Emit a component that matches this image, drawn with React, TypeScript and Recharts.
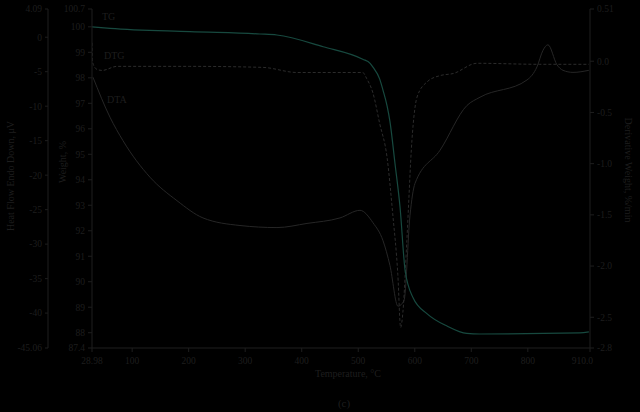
import React from "react";
import { ComposedChart, Line, XAxis, YAxis } from "recharts";

// Temperature axis
const xMin = 28.98;
const xMax = 910;
const xTicks = [28.98, 100, 200, 300, 400, 500, 600, 700, 800, 910];

// Weight axis (inner left)
const wTicks = [87.4, 88, 89, 90, 91, 92, 93, 94, 95, 96, 97, 98, 99, 100, 100.7];
// Heat flow axis (outer left)
const hTicks = [-45.06, -40, -35, -30, -25, -20, -15, -10, -5, 0, 4.09];
// Derivative weight axis (right)
const dTicks = [-2.8, -2.5, -2.0, -1.5, -1.0, -0.5, 0, 0.51];

// TG (weight %)
const tgTemp = [28.98, 61, 202, 326, 356, 438, 508, 521, 526, 538, 544, 551, 556, 565, 574, 583, 597, 622, 657, 692, 715, 892, 908];
const tgVal = [100.0, 99.94, 99.81, 99.72, 99.68, 99.22, 98.73, 98.57, 98.42, 97.95, 97.5, 96.9, 96.3, 94.64, 92.91, 90.43, 89.37, 88.74, 88.26, 87.97, 87.95, 87.99, 88.03];

// DTG (%/min)
const dtgTemp = [28.98, 29.9, 37.8, 46.7, 73.2, 202, 331, 392, 508, 515, 526, 538, 551, 561, 570, 575, 579, 586, 595, 604, 622, 645, 668, 710, 821, 908];
const dtgVal = [0.18, -0.01, -0.08, -0.09, -0.05, -0.05, -0.06, -0.11, -0.11, -0.17, -0.31, -0.61, -0.94, -1.49, -2.08, -2.6, -2.45, -1.75, -0.77, -0.35, -0.2, -0.14, -0.12, -0.02, -0.03, -0.03];

// DTA (µV)
const dtaTemp = [30.7, 60.8, 83.8, 131.6, 179.3, 225.3, 290.8, 356.2, 409.3, 467.7, 503.1, 526.1, 543.8, 556.1, 570.3, 580.9, 591.5, 600.4, 644.6, 692.3, 715.4, 798.5, 816.2, 826.8, 835.6, 851.6, 862.2, 879.9, 908];
const dtaVal = [-5.8, -11.6, -15.0, -20.3, -23.7, -26.2, -27.3, -27.6, -27.0, -26.2, -25.1, -26.9, -29.5, -33.1, -39.0, -38.2, -25.9, -21.2, -16.4, -9.9, -8.7, -6.2, -4.3, -1.9, -1.1, -4.0, -4.8, -5.1, -4.8];

const tgData = tgTemp.map((t, i) => ({ t, v: tgVal[i] }));
const dtgData = dtgTemp.map((t, i) => ({ t, v: dtgVal[i] }));
const dtaData = dtaTemp.map((t, i) => ({ t, v: dtaVal[i] }));

const FONT = '"Liberation Serif", "Times New Roman", serif';
const TXT = "#1e1e1e";
const AX = "#1e1e1e";

const XTick = (props: any) => {
  const { x, y, payload } = props;
  const v = payload.value;
  const last = v === xMax;
  const label = last ? "910.0" : v === xMin ? "28.98" : String(v);
  return (
    <text x={last ? x + 3 : x} y={y} dy="0.71em" textAnchor={last ? "end" : "middle"} fill={TXT} fontSize={9.5} fontFamily={FONT}>
      {label}
    </text>
  );
};

const tickStyle = { fill: TXT, fontSize: 9.5, fontFamily: FONT };

const rot = (left: number, top: number, deg: number, text: string) => (
  <div
    style={{
      position: "absolute",
      left,
      top,
      transform: `translate(-50%, -50%) rotate(${deg}deg)`,
      whiteSpace: "nowrap",
      color: TXT,
      fontSize: 10,
      fontFamily: FONT,
      lineHeight: 1,
    }}
  >
    {text}
  </div>
);

const lbl = (left: number, top: number, text: string, size = 10) => (
  <div
    style={{
      position: "absolute",
      left,
      top,
      transform: "translate(0, -50%)",
      whiteSpace: "nowrap",
      color: TXT,
      fontSize: size,
      fontFamily: FONT,
      lineHeight: 1,
    }}
  >
    {text}
  </div>
);

export default function App() {
  return (
    <div style={{ position: "absolute", left: 0, top: 0, width: 640, height: 412, background: "#000", overflow: "hidden" }}>
      <ComposedChart width={640} height={412} margin={{ top: 9, right: 10, bottom: 34, left: 4 }}>
        <XAxis
          dataKey="t"
          type="number"
          domain={[xMin, xMax]}
          ticks={xTicks}
          allowDataOverflow
          height={30}
          stroke={AX}
          tickSize={4}
          tickMargin={5}
          tick={<XTick />}
        />
        <YAxis
          yAxisId="a"
          orientation="left"
          type="number"
          domain={[87.4, 100.7]}
          ticks={wTicks}
          allowDataOverflow
          width={44}
          stroke={AX}
          tickSize={4}
          tickMargin={3}
          tick={tickStyle}
          interval={0}
        />
        <YAxis
          yAxisId="b"
          orientation="left"
          type="number"
          domain={[-45.06, 4.09]}
          ticks={hTicks}
          allowDataOverflow
          width={44}
          stroke={AX}
          tickSize={3}
          tickMargin={3}
          tick={tickStyle}
          interval={0}
        />
        <YAxis
          yAxisId="d"
          orientation="right"
          type="number"
          domain={[-2.8, 0.51]}
          ticks={dTicks}
          allowDataOverflow
          width={40}
          stroke={AX}
          tickSize={4}
          tickMargin={3}
          tick={tickStyle}
          interval={0}
          tickFormatter={(v: number) => (v === 0.51 ? "0.51" : v.toFixed(1))}
        />
        <Line yAxisId="b" data={dtaData} dataKey="v" type="monotone" stroke="#262626" strokeWidth={1} dot={false} isAnimationActive={false} />
        <Line yAxisId="d" data={dtgData} dataKey="v" type="monotone" stroke="#2c2c2c" strokeWidth={1} strokeDasharray="3 2" dot={false} isAnimationActive={false} />
        <Line yAxisId="a" data={tgData} dataKey="v" type="monotone" stroke="#17493f" strokeWidth={1.2} dot={false} isAnimationActive={false} />
      </ComposedChart>
      {rot(11, 176, -90, "Heat Flow Endo Down, μV")}
      {rot(63, 162, -90, "Weight, %")}
      {rot(628, 170, 90, "Derivative Weight, %/min")}
      <div style={{ position: "absolute", left: 348, top: 374, transform: "translate(-50%, -50%)", whiteSpace: "nowrap", color: TXT, fontSize: 10, fontFamily: FONT, lineHeight: 1 }}>
        Temperature, °C
      </div>
      <div style={{ position: "absolute", left: 344, top: 403, transform: "translate(-50%, -50%)", whiteSpace: "nowrap", color: TXT, fontSize: 11, fontFamily: FONT, lineHeight: 1 }}>
        (c)
      </div>
      {lbl(102, 17, "TG")}
      {lbl(104, 56, "DTG")}
      {lbl(107, 100, "DTA")}
    </div>
  );
}
